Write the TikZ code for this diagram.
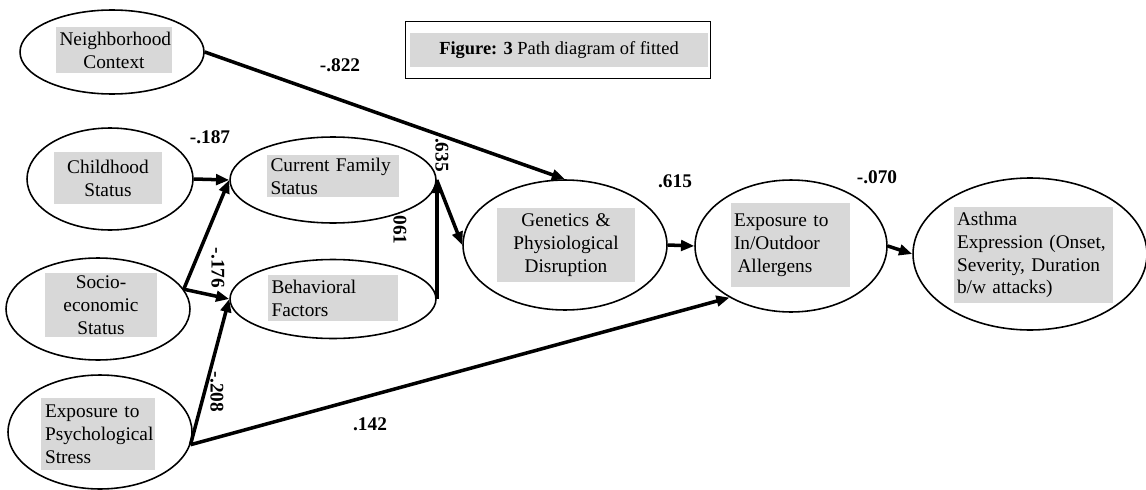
\documentclass[tikz,border=0pt]{standalone}
\usepackage{fontspec}
\setmainfont{Liberation Serif}
\usetikzlibrary{positioning,shapes.geometric,arrows.meta}
\definecolor{boxgray}{RGB}{216,216,216}
\hyphenpenalty=10000

\begin{document}
\begin{tikzpicture}[
    x=0.02cm, y=-0.02cm,
    factor/.style={%
      draw,
      ellipse,
      line width=0.9pt,
      inner sep=0pt,
    },
    lbl/.style={%
      fill=boxgray,
      inner xsep=2pt,
      inner ysep=0pt,
      font=\fontsize{11}{13}\selectfont,
    },
    coef/.style={%
      font=\fontsize{11}{13}\selectfont\bfseries,
      inner sep=1pt,
    },
    path/.style={%
      line width=2pt,
      -{Triangle[length=7.5pt,width=6pt]},
    },
  ]
    \useasboundingbox (0,0) rectangle (1146,490);

    % latent factors
    \node [factor, minimum width=3.68cm, minimum height=1.68cm] (nc) at (112,52) {};
    \node [factor, minimum width=3.32cm, minimum height=2.04cm] (cs) at (110,179) {};
    \node [factor, minimum width=3.68cm, minimum height=2.04cm] (ses) at (98,309) {};
    \node [factor, minimum width=3.68cm, minimum height=2.28cm] (ps) at (100,432) {};
    \node [factor, minimum width=4.12cm, minimum height=1.72cm] (cfs) at (333,180) {};
    \node [factor, minimum width=4.12cm, minimum height=1.58cm] (bf) at (333,299) {};
    \node [factor, minimum width=4.08cm, minimum height=2.6cm] (gpd) at (565,245) {};
    \node [factor, minimum width=3.84cm, minimum height=2.64cm] (eio) at (791,246) {};
    \node [factor, minimum width=4.68cm, minimum height=3.04cm] (ae) at (1030,254) {};

    % their texts
    \node [lbl, text width=2.18cm, minimum height=0.94cm, align=center] (ncTxt) at (114,50) {Neighborhood\\Context};
    \node [lbl, text width=2.0cm, minimum height=1.06cm, align=center] (csTxt) at (108,178) {Childhood\\Status};
    \node [lbl, text width=2.1cm, minimum height=1.3cm, align=center] (sesTxt) at (101,305) {Socio-\\economic\\Status};
    \node [lbl, text width=2.12cm, minimum height=1.44cm, align=left] (psTxt) at (98,434) {Exposure to\\Psychological\\Stress};
    \node [lbl, text width=2.5cm, minimum height=0.86cm, align=left] (cfsTxt) at (333,176) {Current Family\\Status};
    \node [lbl, text width=2.46cm, minimum height=0.94cm, align=left] (bfTxt) at (333,298) {Behavioral\\Factors};
    \node [lbl, text width=2.62cm, minimum height=1.48cm, align=center] (gpdTxt) at (566,245) {Genetics \&\\Physiological\\Disruption};
    \node [lbl, text width=2.24cm, minimum height=1.68cm, align=left] (eioTxt) at (790,245) {Exposure to\\In/Outdoor\\\hspace*{2pt}Allergens};
    \node [lbl, text width=3.04cm, minimum height=1.92cm, align=left] (aeTxt) at (1033,255) {Asthma\\Expression (Onset,\\Severity, Duration\\b/w attacks)};

    % caption box
    \node [draw, line width=0.6pt, minimum width=6.1cm, minimum height=1.14cm] (capBox) at (558,50) {};
    \node [lbl, minimum width=5.96cm, minimum height=0.68cm, font=\fontsize{10.5}{12}\selectfont] (cap) at (559,50) {\textbf{Figure: 3} Path diagram of fitted};

    % paths
    \draw [path] (nc.east) -- (gpd.north);
    \draw [path] (cs.east) -- (cfs.west);
    \draw [path] (ses.13) -- (cfs.west);
    \draw [path] (ses.13) -- (bf.west);
    \draw [path] (ps.-8) -- (bf.west);
    \draw [path] (ps.-8) -- (eio.220);
    \draw [path] (cfs.east) -- (gpd.west);
    \draw [path] (bf.east) -- (cfs.east);
    \draw [path] (gpd.east) -- (eio.west);
    \draw [path] (eio.east) -- (ae.west);

    % coefficients
    \node [coef] (c822) at (340,65) {-.822};
    \node [coef] (c187) at (210,137) {-.187};
    \node [coef, rotate=-90] (c176) at (218,268) {-.176};
    \node [coef, rotate=-90] (c208) at (217,392) {-.208};
    \node [coef] (c142) at (370,424) {.142};
    \node [coef, rotate=-90] (c635) at (442,155) {.635};
    \node [coef, rotate=-90] (c061) at (400,230) {061};
    \node [coef] (c615) at (675,181) {.615};
    \node [coef] (c070) at (877,177) {-.070};
\end{tikzpicture}
\end{document}
